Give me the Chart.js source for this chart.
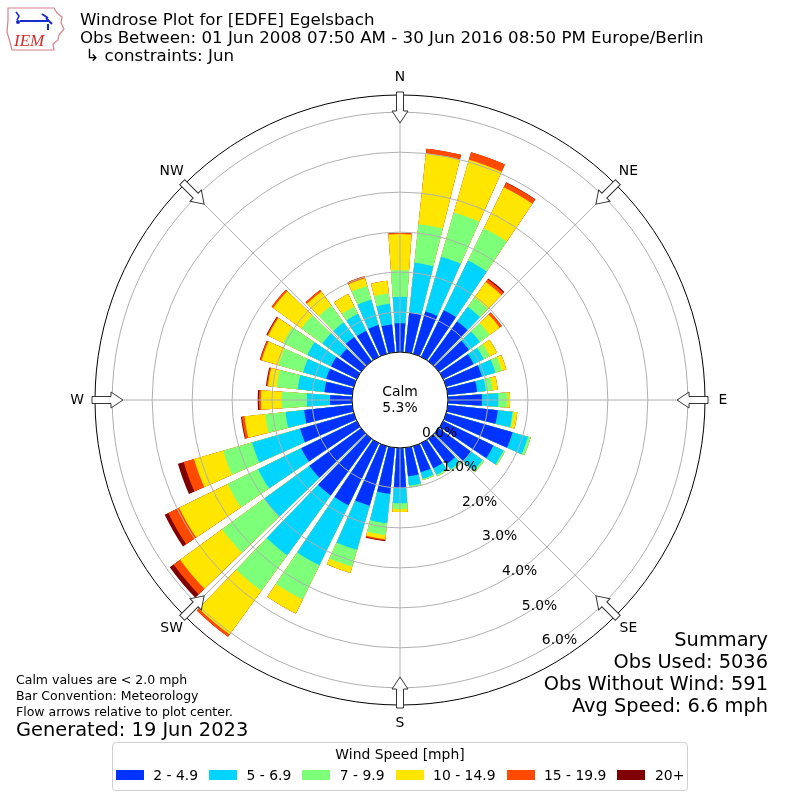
<!DOCTYPE html>
<html>
<head>
<meta charset="utf-8">
<title>Windrose EDFE</title>
<script src="https://cdn.jsdelivr.net/npm/chart.js@4.4.0/dist/chart.umd.min.js"></script>
<style>
  html, body { margin: 0; padding: 0; background: #fff; }
  body { width: 800px; height: 800px; position: relative; overflow: hidden; font-family: "DejaVu Sans", sans-serif; color: #000; }
  #chart { position: absolute; left: 0; top: 0; }
  #logo { position: absolute; left: 4px; top: 4px; }
  #title { position: absolute; left: 80px; top: 11px; font-size: 16.67px; line-height: 18px; white-space: pre; }
  #summary { position: absolute; right: 32px; top: 629px; font-size: 19.4px; line-height: 22px; text-align: right; white-space: pre; }
  #notes { position: absolute; left: 16px; top: 672px; font-size: 12.5px; line-height: 16px; white-space: pre; }
  #generated { position: absolute; left: 16px; top: 719px; font-size: 19.4px; line-height: 22px; white-space: pre; }
  #legend { position: absolute; left: 112px; top: 742px; width: 574px; height: 47px; border: 1px solid #d0d0d0; border-radius: 4px; box-sizing: content-box; }
  #legend .lt { text-align: center; font-size: 13.9px; line-height: 16px; margin-top: 3px; }
  #legend .items { display: flex; justify-content: center; align-items: center; margin-top: 5px; font-size: 13.9px; line-height: 16px; white-space: nowrap; }
  #legend .item { display: flex; align-items: center; margin: 0 5.5px; flex: none; }
  #legend .sw { width: 28px; height: 10px; margin-right: 9.5px; flex: none; }
</style>
</head>
<body>
<canvas id="chart" width="800" height="800"></canvas>

<svg id="logo" width="64" height="50" viewBox="0 0 64 50">
  <path d="M4 4 L50 4 L53 9 L58 13 L57 19 L60 25 L55 31 L54 36 L49 40 L50 46 L8 46 L6 38 L3 28 L4 16 Z" fill="none" stroke="#d9808a" stroke-width="1.2"/>
  <path d="M12 8 L15 12 L13 16" fill="none" stroke="#1a2ccc" stroke-width="1.6"/>
  <circle cx="14" cy="18" r="2" fill="#1a2ccc"/>
  <path d="M16 17 L44 17 M42 14 L48 20 M38 10 L44 14 M44 20 L44 26" fill="none" stroke="#1a2ccc" stroke-width="2"/>
  <text x="10" y="42" font-family="Liberation Serif" font-style="italic" font-size="17" fill="#d42a2a">IEM</text>
</svg>

<div id="title">Windrose Plot for [EDFE] Egelsbach
Obs Between: 01 Jun 2008 07:50 AM - 30 Jun 2016 08:50 PM Europe/Berlin
 ↳ constraints: Jun</div>

<div id="summary">Summary
Obs Used: 5036
Obs Without Wind: 591
Avg Speed: 6.6 mph</div>

<div id="notes">Calm values are &lt; 2.0 mph
Bar Convention: Meteorology
Flow arrows relative to plot center.</div>
<div id="generated">Generated: 19 Jun 2023</div>

<div id="legend">
  <div class="lt">Wind Speed [mph]</div>
  <div class="items" id="legendItems"></div>
</div>

<script>
// direction each bar points from (degrees, meteorological)
const directions = [0, 10, 20, 30, 40, 50, 60, 70, 80, 90, 100, 110, 120, 130, 140, 150, 160, 170,
  180, 190, 200, 210, 220, 230, 240, 250, 260, 270, 280, 290, 300, 310, 320, 330, 340, 350];
const compassLabels = ['N', 'NE', 'E', 'SE', 'S', 'SW', 'W', 'NW'];

// frequency (%) per speed bin, one value per direction
const speed2to5 = [0.72, 1.00, 1.10, 1.30, 1.23, 0.93, 0.85, 0.93, 0.74, 0.85, 1.26, 1.73, 1.40, 1.00, 0.78, 0.70, 0.68, 0.72,
  1.00, 1.16, 1.55, 1.73, 1.75, 1.60, 1.55, 1.40, 1.21, 0.55, 0.70, 0.72, 0.72, 0.65, 0.75, 0.73, 0.75, 0.70];
const speed5to7 = [0.66, 1.25, 1.43, 1.38, 0.45, 0.34, 0.28, 0.35, 0.22, 0.41, 0.37, 0.40, 0.28, 0.35, 0.17, 0.18, 0.17, 0.23,
  0.38, 0.74, 1.15, 1.67, 1.85, 1.40, 1.20, 1.25, 0.47, 0.58, 0.67, 0.60, 0.66, 0.55, 0.45, 0.47, 0.66, 0.52];
const speed7to10 = [0.67, 0.97, 1.15, 0.90, 0.29, 0.30, 0.17, 0.17, 0.17, 0.23, 0.03, 0.07, 0.04, 0.05, 0.03, 0.04, 0.03, 0.05,
  0.15, 0.30, 0.44, 0.95, 1.10, 1.30, 0.85, 0.75, 0.51, 0.63, 0.53, 0.64, 0.67, 0.65, 0.52, 0.20, 0.36, 0.26];
const speed10to15 = [0.90, 1.78, 1.37, 1.14, 0.48, 0.31, 0.20, 0.12, 0.13, 0.06, 0.09, 0, 0, 0, 0, 0, 0, 0,
  0.07, 0.10, 0.16, 0.39, 1.35, 1.30, 1.35, 0.76, 0.52, 0.52, 0.22, 0.44, 0.42, 0.87, 0.43, 0.35, 0.20, 0.32];
const speed15to20 = [0.03, 0.12, 0.20, 0.13, 0.08, 0.07, 0, 0, 0, 0, 0, 0, 0, 0, 0, 0, 0, 0,
  0, 0.03, 0, 0, 0.07, 0.20, 0.30, 0.27, 0.07, 0.05, 0.03, 0.04, 0.03, 0.05, 0.05, 0, 0.05, 0];
const speed20up = [0, 0, 0, 0.01, 0.03, 0, 0, 0, 0, 0, 0, 0, 0, 0, 0, 0, 0, 0,
  0, 0.02, 0, 0, 0, 0.12, 0.10, 0.15, 0.02, 0.03, 0.02, 0.01, 0.02, 0, 0, 0, 0, 0];

const binLabels = ['2 - 4.9', '5 - 6.9', '7 - 9.9', '10 - 14.9', '15 - 19.9', '20+'];
const binColors = ['#0033ff', '#00d4ff', '#7dff7a', '#ffe600', '#ff4a00', '#800000'];
const tickValues = [0, 1, 2, 3, 4, 5, 6];
const calmPct = 5.3;

const speedBins = [speed2to5, speed5to7, speed7to10, speed10to15, speed15to20, speed20up];

// stacked totals: polar arcs all start at the centre, so each layer holds the running sum
const cumulative = speedBins.map((_, b) => directions.map((d, i) => {
  let s = 0;
  for (let k = 0; k <= b; k++) s += speedBins[k][i];
  return s;
}));

// arcs: 8 deg bar, 2 deg gap; north bar split in two halves around 0 deg
const barWidth = 8, gapWidth = 2;
const segIndex = [0, -1];
const segAngles = [barWidth / 2, gapWidth];
for (let i = 1; i < directions.length; i++) {
  segIndex.push(i, -1);
  segAngles.push(barWidth, gapWidth);
}
segIndex.push(0);
segAngles.push(barWidth / 2);

const legendItems = document.getElementById('legendItems');
binLabels.forEach((lab, b) => {
  const it = document.createElement('div');
  it.className = 'item';
  it.innerHTML = '<span class="sw" style="background:' + binColors[b] + '"></span><span>' + lab + '</span>';
  legendItems.appendChild(it);
});

const decor = {
  id: 'decor',
  afterDraw(chart) {
    const ctx = chart.ctx;
    const r = chart.scales.r;
    const cx = r.xCenter, cy = r.yCenter;
    const outer = r.getDistanceFromCenterForValue(r.max);
    const calmR = r.getDistanceFromCenterForValue(0);
    ctx.save();
    ctx.strokeStyle = '#000';
    ctx.lineWidth = 1;
    ctx.beginPath();
    ctx.arc(cx, cy, outer, 0, Math.PI * 2);
    ctx.stroke();

    ctx.beginPath();
    ctx.arc(cx, cy, calmR, 0, Math.PI * 2);
    ctx.fillStyle = '#fff';
    ctx.fill();
    ctx.stroke();

    ctx.fillStyle = '#000';
    ctx.textAlign = 'center';
    ctx.textBaseline = 'middle';
    ctx.font = '13.9px "DejaVu Sans"';
    ctx.fillText('Calm', cx, cy - 8);
    ctx.fillText(calmPct.toFixed(1) + '%', cx, cy + 8);

    // radial labels
    const la = 150 * Math.PI / 180;
    tickValues.forEach(v => {
      const d = r.getDistanceFromCenterForValue(v);
      ctx.fillText(v.toFixed(1) + '%', cx + d * Math.sin(la) + 15.6, cy - d * Math.cos(la) - 8.6);
    });

    // compass labels and flow arrows
    chart.data.labels.forEach((lab, i) => {
      const p = r.getPointPosition(i, outer + 18);
      ctx.fillStyle = '#000';
      ctx.fillText(lab, p.x, p.y);
      ctx.save();
      ctx.translate(cx, cy);
      ctx.rotate(p.angle);
      ctx.beginPath();
      ctx.moveTo(outer + 3, -3.5);
      ctx.lineTo(outer - 16, -3.5);
      ctx.lineTo(outer - 16, -8);
      ctx.lineTo(outer - 28, 0);
      ctx.lineTo(outer - 16, 8);
      ctx.lineTo(outer - 16, 3.5);
      ctx.lineTo(outer + 3, 3.5);
      ctx.closePath();
      ctx.fillStyle = '#fff';
      ctx.fill();
      ctx.strokeStyle = '#333';
      ctx.stroke();
      ctx.restore();
    });
    ctx.restore();
  }
};

new Chart(document.getElementById('chart'), {
  type: 'polarArea',
  data: {
    labels: compassLabels,
    datasets: binLabels.map((lab, b) => ({
      label: lab,
      data: segIndex.map(i => (i < 0 ? null : cumulative[b][i])),
      backgroundColor: (c) => (segIndex[c.dataIndex] < 0 ? 'rgba(0,0,0,0)' : binColors[b]),
      borderWidth: 0,
      angle: (c) => segAngles[c.dataIndex],
    })),
  },
  options: {
    responsive: false,
    animation: false,
    layout: { padding: 95 },
    plugins: {
      legend: { display: false },
      tooltip: { enabled: false },
    },
    scales: {
      r: {
        min: -1.2,
        max: 6.43,
        startAngle: 0,
        ticks: { display: false, stepSize: 1 },
        afterBuildTicks: (scale) => {
          scale.ticks = tickValues.map(v => ({ value: v }));
        },
        grid: { circular: true, z: 1, color: '#b0b0b0', lineWidth: 1 },
        angleLines: { display: true, color: '#b0b0b0', lineWidth: 1 },
        pointLabels: { display: false },
      },
    },
  },
  plugins: [decor],
});
</script>
</body>
</html>
